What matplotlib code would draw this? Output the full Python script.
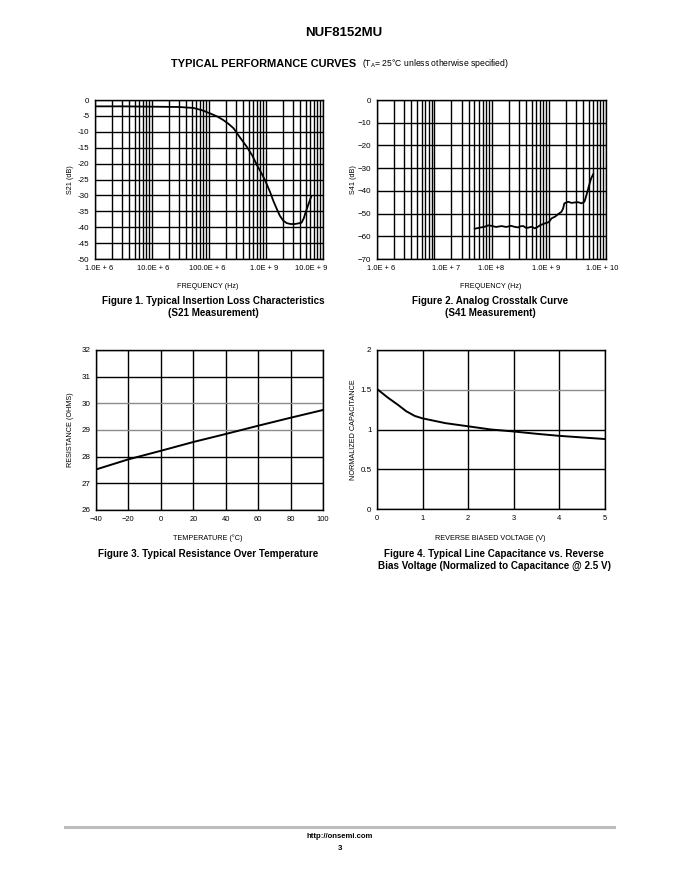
import numpy as np
import matplotlib
matplotlib.use('Agg')
import matplotlib.pyplot as plt
import matplotlib.transforms as mtransforms

plt.rcParams['font.family'] = ['Liberation Sans', 'DejaVu Sans']
plt.rcParams['mathtext.fontset'] = 'custom'
plt.rcParams['mathtext.rm'] = 'Liberation Sans'

# Figure 1: S21 insertion loss
s21_freq = [1e6, 3e6, 1e7, 3e7, 5.3e7, 7.5e7, 1.04e8, 1.4e8, 1.78e8, 2.2e8, 2.7e8, 3.5e8,
            4.6e8, 5.8e8, 6.9e8, 8.2e8, 9.6e8, 1.17e9, 1.35e9, 1.55e9, 1.75e9, 2.0e9,
            2.3e9, 2.7e9, 3.2e9, 3.7e9, 4.2e9, 4.6e9, 4.9e9, 5.5e9, 6.2e9]
s21_db = [-2.0, -2.0, -2.1, -2.2, -2.5, -3.2, -4.2, -5.2, -6.3, -7.5, -8.9, -11.8,
          -14.7, -17.6, -20.4, -22.8, -25.2, -28.8, -31.8, -34.3, -36.4, -37.9,
          -38.7, -39.0, -39.0, -38.8, -38.6, -37.2, -35.6, -33.0, -30.4]

# Figure 2: S41 crosstalk
s41_freq = [5.1e7, 6.2e7, 7.6e7, 8.8e7, 1.0e8, 1.2e8, 1.5e8, 1.8e8, 2.2e8, 2.5e8, 2.9e8,
            3.2e8, 3.6e8, 4.0e8, 4.4e8, 5.0e8, 5.7e8, 6.4e8, 7.1e8, 8.6e8, 1.0e9,
            1.12e9, 1.3e9, 1.47e9, 1.67e9, 1.78e9, 1.87e9, 2.19e9, 2.5e9, 2.86e9,
            3.3e9, 3.7e9, 4.2e9, 4.6e9, 4.9e9, 5.5e9, 6.0e9]
s41_db = [-56.7, -56.2, -55.8, -55.2, -55.4, -55.9, -55.5, -55.9, -55.4, -55.8, -56.1,
          -55.6, -55.5, -56.3, -56.2, -55.8, -56.5, -55.9, -55.1, -54.3, -53.8,
          -52.1, -51.3, -50.2, -49.2, -47.8, -45.5, -44.8, -45.3, -45.1,
          -45.0, -45.5, -44.8, -41.5, -38.9, -34.5, -32.6]

# Figure 3: resistance vs temperature
temp_c = [-40, -20, 0, 20, 40, 60, 80, 100]
resistance = [27.52, 27.90, 28.22, 28.55, 28.85, 29.16, 29.46, 29.75]

# Figure 4: normalized capacitance vs reverse voltage
bias_v = [0.0, 0.24, 0.46, 0.64, 0.83, 1.0, 1.5, 2.0, 2.5, 3.0, 3.5, 4.0, 4.5, 5.0]
norm_cap = [1.51, 1.40, 1.31, 1.23, 1.17, 1.14, 1.08, 1.04, 1.00, 0.975, 0.946, 0.92, 0.90, 0.88]

W, H = 681, 881
fig = plt.figure(figsize=(W / 100, H / 100), dpi=100)


def box(x0, y0, x1, y1):
    return [x0 / W, 1 - y1 / H, (x1 - x0) / W, (y1 - y0) / H]


def ftext(x, y, s, **kw):
    fig.text(x / W, 1 - y / H, s, ha='center', va='center', **kw)


TICK = 5.4
LAB = 5.2
CAP = 7.1
GRID = dict(color='black', linewidth=1.0)


def style(ax):
    for sp in ax.spines.values():
        sp.set_linewidth(1.0)
    ax.tick_params(which='both', length=0, labelsize=TICK, pad=4)
    ax.tick_params(axis='y', labelsize=5.8)
    ax.set_axisbelow(True)


def shift_xlabels(ax, offsets):
    for lbl, dx in zip(ax.get_xticklabels(), offsets):
        lbl.set_transform(lbl.get_transform() +
                          mtransforms.ScaledTranslation(dx / 100, 0, fig.dpi_scale_trans))


decades = [1e6, 1e7, 1e8, 1e9, 1e10]

# ---- Figure 1
ax1 = fig.add_axes(box(95, 100, 323, 259))
ax1.semilogx(s21_freq, s21_db, color='black', linewidth=1.3)
ax1.set_xlim(1e6, 1e10)
ax1.set_ylim(-50, 0)
ax1.set_yticks(np.arange(-50, 1, 5))
ax1.set_yticklabels(['0' if v == 0 else '%d' % v for v in np.arange(-50, 1, 5)])
ax1.set_xticks(decades)
ax1.set_xticklabels(['1.0E + 6', '10.0E + 6', '100.0E + 6', '1.0E + 9', '10.0E + 9'])
ax1.xaxis.set_minor_locator(matplotlib.ticker.LogLocator(base=10, subs=np.arange(2, 10)))
ax1.xaxis.set_minor_formatter(matplotlib.ticker.NullFormatter())
ax1.grid(which='both', axis='x', **GRID)
ax1.grid(which='major', axis='y', **GRID)
style(ax1)
shift_xlabels(ax1, [4, 1, -2, -2, -12])
ax1.set_ylabel('S21 (dB)', fontsize=LAB)
ax1.yaxis.set_label_coords(-0.092, 0.5)

# ---- Figure 2
ax2 = fig.add_axes(box(377, 100, 606, 259))
ax2.semilogx(s41_freq, s41_db, color='black', linewidth=1.3)
ax2.set_xlim(1e6, 1e10)
ax2.set_ylim(-70, 0)
ax2.set_yticks(np.arange(-70, 1, 10))
ax2.set_xticks(decades)
ax2.set_xticklabels(['1.0E + 6', '1.0E + 7', '1.0E +8', '1.0E + 9', '1.0E + 10'])
ax2.xaxis.set_minor_locator(matplotlib.ticker.LogLocator(base=10, subs=np.arange(2, 10)))
ax2.xaxis.set_minor_formatter(matplotlib.ticker.NullFormatter())
ax2.grid(which='both', axis='x', **GRID)
ax2.grid(which='major', axis='y', **GRID)
style(ax2)
shift_xlabels(ax2, [4, 12, 0, -3, -4])
ax2.set_ylabel('S41 (dB)', fontsize=LAB)
ax2.yaxis.set_label_coords(-0.087, 0.5)

# ---- Figure 3
ax3 = fig.add_axes(box(96, 350, 323, 510))
ax3.plot(temp_c, resistance, color='black', linewidth=1.4)
ax3.set_xlim(-40, 100)
ax3.set_ylim(26, 32)
ax3.set_xticks(temp_c)
ax3.set_xticklabels(['\u221240', '\u221220', '0', '20', '40', '60', '80', '100'])
ax3.set_yticks(range(26, 33))
ax3.grid(True, **GRID)
for val, gl in zip(range(26, 33), ax3.get_ygridlines()):
    if val in (29, 30):
        gl.set_color('#8c8c8c')
style(ax3)
ax3.set_ylabel('RESISTANCE (OHMS)', fontsize=LAB)
ax3.yaxis.set_label_coords(-0.097, 0.5)

# ---- Figure 4
ax4 = fig.add_axes(box(377, 350, 605, 509))
ax4.plot(bias_v, norm_cap, color='black', linewidth=1.4)
ax4.set_xlim(0, 5)
ax4.set_ylim(0, 2)
ax4.set_xticks(range(0, 6))
ax4.set_yticks([0, 0.5, 1, 1.5, 2])
ax4.set_yticklabels(['0', '0.5', '1', '1.5', '2'])
ax4.grid(True, **GRID)
for val, gl in zip([0, 0.5, 1, 1.5, 2], ax4.get_ygridlines()):
    if val == 1.5:
        gl.set_color('#8c8c8c')
style(ax4)
ax4.set_ylabel('NORMALIZED CAPACITANCE', fontsize=LAB)
ax4.yaxis.set_label_coords(-0.088, 0.5)

# ---- page texts
ftext(344, 33, 'NUF8152MU', fontsize=9.5, fontweight='bold')
fig.text(171 / W, 1 - 64 / H, 'TYPICAL PERFORMANCE CURVES', ha='left', va='center',
         fontsize=7.9, fontweight='bold')
fig.text(362 / W, 1 - 64 / H, r'(T$_\mathregular{A}$= 25°C unless otherwise specified)',
         ha='left', va='center', fontsize=6.2)

ftext(208, 286, 'FREQUENCY (Hz)', fontsize=LAB)
ftext(213, 301, 'Figure 1. Typical Insertion Loss Characteristics', fontsize=CAP, fontweight='bold')
ftext(213, 313, '(S21 Measurement)', fontsize=CAP, fontweight='bold')

ftext(491, 286, 'FREQUENCY (Hz)', fontsize=LAB)
ftext(490, 301, 'Figure 2. Analog Crosstalk Curve', fontsize=CAP, fontweight='bold')
ftext(490, 313, '(S41 Measurement)', fontsize=CAP, fontweight='bold')

ftext(208, 538, 'TEMPERATURE (°C)', fontsize=LAB)
ftext(208, 554, 'Figure 3. Typical Resistance Over Temperature', fontsize=CAP, fontweight='bold')

ftext(490, 538, 'REVERSE BIASED VOLTAGE (V)', fontsize=LAB)
ftext(494, 554, 'Figure 4. Typical Line Capacitance vs. Reverse', fontsize=CAP, fontweight='bold')
ftext(494, 566, 'Bias Voltage (Normalized to Capacitance @ 2.5 V)', fontsize=CAP, fontweight='bold')

fig.add_artist(plt.Line2D([65 / W, 614 / W], [1 - 827 / H, 1 - 827 / H],
                          color='#bdbdbd', linewidth=2.2))
ftext(340, 836, 'http://onsemi.com', fontsize=5.6, fontweight='bold')
ftext(340, 848, '3', fontsize=5.6, fontweight='bold')

fig.savefig('out.png', dpi=100)
